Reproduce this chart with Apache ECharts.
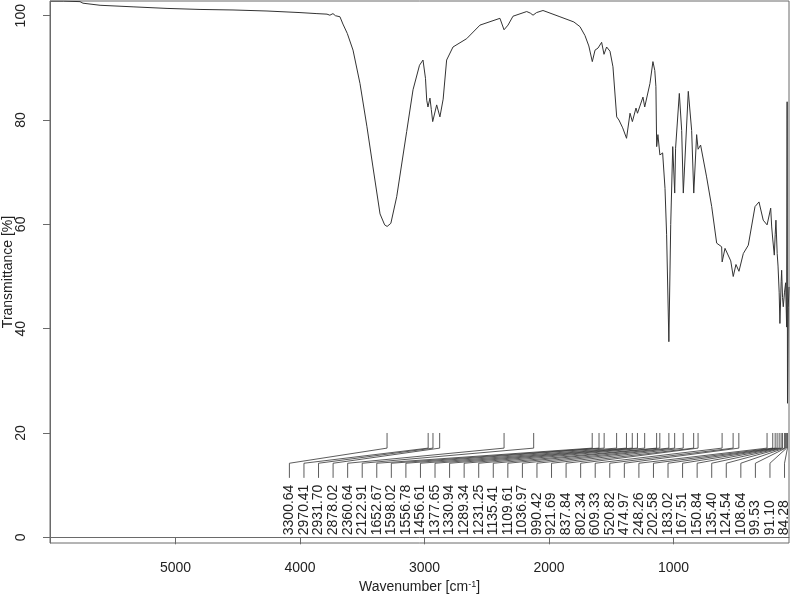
<!DOCTYPE html>
<html>
<head>
<meta charset="utf-8">
<script src="https://cdn.jsdelivr.net/npm/echarts@6/dist/echarts.min.js"></script>
<style>
    html, body { margin: 0; padding: 0; background: #fff; }
    #chart { width: 790px; height: 595px; }
</style>
</head>
<body>
<div id="chart"></div>
<script>
    // spectrum (cm-1 / %T)
    var wavenumber = [
        6000, 5900, 5767, 5743, 5606, 5341, 5068, 4803, 4538, 4265, 4000, 3864,
        3783, 3760, 3735, 3715, 3700, 3679, 3655, 3620, 3574, 3518, 3462, 3414,
        3357, 3320, 3300, 3270, 3223, 3143, 3092, 3040, 3012, 2992, 2982, 2972,
        2956, 2945, 2934, 2902, 2876, 2850, 2822, 2771, 2661, 2554, 2394, 2361,
        2329, 2289, 2179, 2150, 2128, 2100, 2048, 1912, 1800, 1751, 1711, 1680,
        1652, 1630, 1606, 1577, 1558, 1537, 1510, 1486, 1456, 1438, 1408, 1377,
        1349, 1330, 1301, 1289, 1245, 1231, 1189, 1165, 1150, 1141, 1135, 1125,
        1109, 1087, 1068, 1055, 1037, 1022, 1006, 990, 983, 953, 934, 921,
        881, 854, 837, 814, 802, 782, 734, 693, 653, 613, 609, 586,
        540, 520, 498, 474, 439, 399, 345, 313, 279, 248, 238, 219,
        211, 202, 190, 183, 177, 167, 160, 151, 145, 135, 131, 124,
        118, 108, 99, 91, 87, 84, 78, 72
    ];
    var transmittance = [
        102.8, 102.8, 102.7, 102.4, 102.0, 101.7, 101.4, 101.2, 101.1, 100.9, 100.6, 100.4,
        100.3, 100.1, 100.4, 100.0, 100.3, 99.8, 98.4, 96.6, 93.4, 87.0, 78.7, 71.0,
        62.0, 59.9, 59.6, 60.2, 65.3, 77.8, 85.8, 90.5, 91.5, 88.0, 83.8, 82.5,
        84.2, 82.0, 79.7, 82.9, 80.6, 84.0, 91.5, 94.0, 95.6, 98.2, 99.5, 97.3,
        98.2, 99.9, 100.8, 100.5, 100.1, 100.6, 101.0, 99.8, 98.8, 97.9, 96.2, 94.2,
        91.2, 93.4, 93.8, 94.9, 92.6, 94.0, 93.2, 90.2, 80.6, 80.0, 78.5, 76.5,
        81.3, 79.7, 82.3, 81.3, 84.4, 82.5, 87.0, 91.2, 89.5, 86.4, 74.9, 77.2,
        73.3, 73.7, 66.9, 58.0, 37.5, 60.0, 74.9, 66.0, 74.6, 85.1, 78.0, 66.0,
        85.5, 78.0, 66.0, 77.2, 74.4, 75.2, 69.1, 63.4, 56.4, 55.7, 52.8, 55.4,
        53.0, 50.0, 52.3, 51.0, 54.4, 56.0, 63.4, 64.3, 60.8, 59.9, 60.0, 63.1,
        59.5, 57.0, 54.1, 58.0, 60.8, 54.4, 52.0, 47.0, 41.0, 49.0, 51.2, 46.0,
        44.2, 47.0, 48.8, 40.3, 83.5, 25.7, 44.0, 48.0
    ];

    var peakLabels = [
        3300.64, 2970.41, 2931.70, 2878.02, 2360.64, 2122.91, 1652.67, 1598.02,
        1556.78, 1456.61, 1377.65, 1330.94, 1289.34, 1231.25, 1135.41, 1109.61,
        1036.97, 990.42, 921.69, 837.84, 802.34, 609.33, 520.82, 474.97,
        248.26, 202.58, 183.02, 167.51, 150.84, 135.40, 124.54, 108.64,
        99.53, 91.10, 84.28
    ];

    var xTicks = [1000, 2000, 3000, 4000, 5000];
    var yTicks = [0, 20, 40, 60, 80, 100];

    var spectrum = wavenumber.map(function (w, i) { return [w, transmittance[i]]; });

    // where the rotated labels sit (evenly spread, in axis units)
    var labelFirst = 4085, labelLast = 108;
    var font = '"Liberation Sans", Arial, sans-serif';
    var plain = function (v) { return String(v); };

    var chart = echarts.init(document.getElementById('chart'));
    chart.setOption({
        animation: false,
        grid: {
            left: 50, right: 1, top: 1, bottom: 52,
            outerBoundsMode: 'none',
            containLabel: false,
            show: true, borderColor: '#6a6a6a', borderWidth: 1
        },
        // y title drawn by hand, the axis name kept drifting off the left edge
        graphic: [{
            type: 'text',
            x: 8, y: 272,
            rotation: Math.PI / 2,
            style: {
                text: 'Transmittance [%]',
                fontSize: 14, fontFamily: font, fill: '#222',
                align: 'center', verticalAlign: 'middle'
            }
        }],
        xAxis: {
            type: 'value',
            inverse: true,
            min: 72, max: 6008,
            name: 'Wavenumber [cm{s|-1}]',
            nameLocation: 'middle',
            nameGap: 36,
            nameTextStyle: {
                fontSize: 14, color: '#222', fontFamily: font,
                rich: { s: { fontSize: 9, verticalAlign: 'top', color: '#222', fontFamily: font } }
            },
            axisLine: { show: true, lineStyle: { color: '#6a6a6a' } },
            axisTick: { show: true, length: 7, lineStyle: { color: '#6a6a6a' }, customValues: xTicks },
            axisLabel: { fontSize: 14, color: '#222', fontFamily: font, margin: 18, customValues: xTicks, formatter: plain },
            splitLine: { show: false }
        },
        yAxis: {
            type: 'value',
            min: -1.09, max: 102.82,
            axisLine: { show: true, lineStyle: { color: '#6a6a6a' } },
            axisTick: { show: true, length: 7, lineStyle: { color: '#6a6a6a' }, customValues: yTicks },
            axisLabel: { fontSize: 14, color: '#222', fontFamily: font, rotate: 90, margin: 22, customValues: yTicks, formatter: plain },
            splitLine: { show: false }
        },
        series: [
            {
                type: 'line',
                data: spectrum,
                symbol: 'none',
                lineStyle: { color: '#333', width: 1 },
                z: 3
            },
            {
                type: 'custom',
                data: peakLabels.map(function (p, i) { return [p, i]; }),
                renderItem: function (params, api) {
                    var peak = api.value(0), i = api.value(1);
                    var lx = labelFirst + (labelLast - labelFirst) * i / (peakLabels.length - 1);
                    var a = api.coord([peak, 20]);
                    var b = api.coord([peak, 17.1]);
                    var c = api.coord([lx, 14.2]);
                    var d = api.coord([lx, 11.4]);
                    var t = api.coord([lx, 0.4]);
                    return {
                        type: 'group',
                        children: [
                            {
                                type: 'polyline',
                                shape: { points: [a, b, c, d] },
                                style: { stroke: '#333', lineWidth: 0.8, fill: null }
                            },
                            {
                                type: 'text',
                                x: t[0], y: t[1],
                                rotation: Math.PI / 2,
                                style: {
                                    text: peak.toFixed(2),
                                    fontSize: 14, fontFamily: font, fill: '#222',
                                    align: 'left', verticalAlign: 'middle',
                                    textAlign: 'left', textVerticalAlign: 'middle'
                                }
                            }
                        ]
                    };
                },
                z: 2
            }
        ]
    });
</script>
</body>
</html>
